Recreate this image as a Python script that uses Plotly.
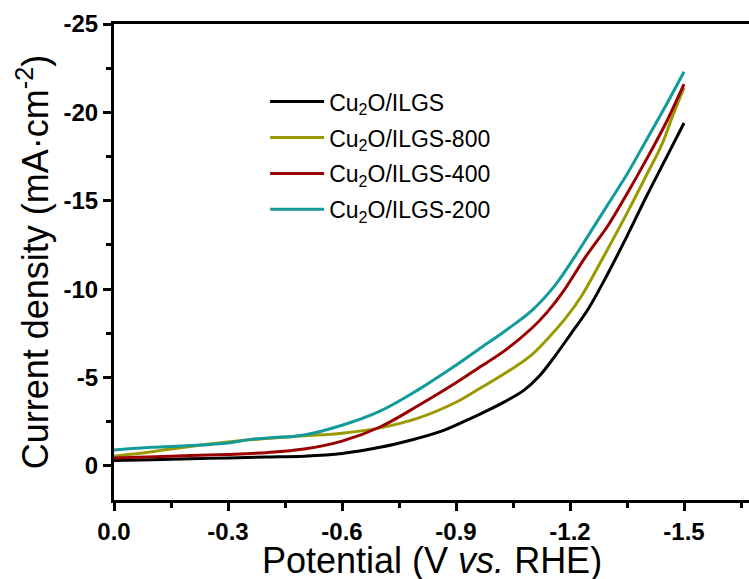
import plotly.graph_objects as go

# ---------------- data ----------------
series_names = ["Cu<sub>2</sub>O/ILGS", "Cu<sub>2</sub>O/ILGS-800",
                "Cu<sub>2</sub>O/ILGS-400", "Cu<sub>2</sub>O/ILGS-200"]
series_colors = ["#000000", "#9a9a00", "#9b0000", "#139b9b"]

v_ilgs = [0, -0.1, -0.2, -0.3, -0.4, -0.5, -0.6, -0.7, -0.78, -0.86, -0.92, -0.97,
          -1.03, -1.08, -1.12, -1.16, -1.2, -1.25, -1.3, -1.35, -1.4, -1.45, -1.5]
j_ilgs = [-0.30, -0.35, -0.40, -0.45, -0.5, -0.55, -0.7, -1.05, -1.45, -1.95, -2.5, -3.0,
          -3.65, -4.3, -5.1, -6.2, -7.4, -8.95, -10.9, -13.0, -15.2, -17.3, -19.4]

v_800 = [0, -0.1, -0.2, -0.3, -0.4, -0.5, -0.6, -0.7, -0.8, -0.9, -0.96, -1.03, -1.1,
         -1.15, -1.19, -1.23, -1.29, -1.35, -1.4, -1.44, -1.47, -1.5]
j_800 = [-0.55, -0.8, -1.1, -1.35, -1.55, -1.7, -1.85, -2.15, -2.7, -3.6, -4.35, -5.25, -6.3,
         -7.4, -8.4, -9.6, -11.9, -14.3, -16.4, -18.1, -19.8, -21.4]

v_400 = [0, -0.15, -0.3, -0.4, -0.5, -0.6, -0.7, -0.8, -0.9, -0.96, -1.03, -1.1, -1.14,
         -1.18, -1.24, -1.3, -1.35, -1.4, -1.45, -1.5]
j_400 = [-0.45, -0.55, -0.65, -0.75, -0.95, -1.4, -2.2, -3.4, -4.7, -5.55, -6.55, -7.8, -8.7,
         -9.8, -11.8, -13.6, -15.4, -17.3, -19.3, -21.6]

v_200 = [0, -0.1, -0.2, -0.3, -0.36, -0.42, -0.5, -0.6, -0.7, -0.8, -0.9, -0.96, -1.03,
         -1.1, -1.16, -1.21, -1.25, -1.3, -1.35, -1.4, -1.45, -1.5]
j_200 = [-0.9, -1.05, -1.15, -1.3, -1.5, -1.6, -1.75, -2.3, -3.1, -4.3, -5.7, -6.6, -7.65,
         -8.8, -10.2, -11.75, -13.1, -14.8, -16.5, -18.4, -20.3, -22.3]

x_tickvals = [0.0, -0.3, -0.6, -0.9, -1.2, -1.5]
x_ticktext = ["0.0", "-0.3", "-0.6", "-0.9", "-1.2", "-1.5"]
x_minorvals = [-0.15, -0.45, -0.75, -1.05, -1.35, -1.65]
y_tickvals = [-25, -20, -15, -10, -5, 0]
y_ticktext = ["-25", "-20", "-15", "-10", "-5", "0"]
y_minorvals = [-22.5, -17.5, -12.5, -7.5, -2.5]

x_title = "Potential (V <i>vs.</i> RHE)"
y_title = "Current density (mA·cm<sup>-2</sup>)"

xs = [v_ilgs, v_800, v_400, v_200]
ys = [j_ilgs, j_800, j_400, j_200]

# ---------------- figure ----------------
FONT = "Arial, Liberation Sans, sans-serif"
fig = go.Figure()
for name, color, x, y in zip(series_names, series_colors, xs, ys):
    fig.add_trace(go.Scatter(x=x, y=y, mode="lines", name=name, legendgroup=name,
                             line=dict(color=color, width=3, shape="spline", smoothing=1.0)))

axis_common = dict(showline=True, linecolor="black", linewidth=3, ticks="outside",
                   ticklen=8, tickwidth=3, tickcolor="black", showgrid=False,
                   zeroline=False, tickmode="array",
                   tickfont=dict(family=FONT, size=24, color="black", weight="bold"))

fig.update_layout(
    width=749, height=579,
    margin=dict(l=114, r=0, t=24, b=79),
    paper_bgcolor="white", plot_bgcolor="white",
    font=dict(family=FONT, color="black"),
    showlegend=True,
    legend=dict(x=0.238, y=0.882, xanchor="left", yanchor="top",
                bgcolor="rgba(0,0,0,0)", borderwidth=0,
                font=dict(family=FONT, size=23, color="black"),
                tracegroupgap=3, itemwidth=54),
    xaxis=dict(axis_common, range=[0, -1.671], mirror=True,
               tickvals=x_tickvals, ticktext=x_ticktext,
               minor=dict(tickmode="array", tickvals=x_minorvals, ticks="outside",
                          ticklen=5, tickwidth=3, tickcolor="black")),
    yaxis=dict(axis_common, range=[1.93, -25],
               tickvals=y_tickvals, ticktext=y_ticktext,
               minor=dict(tickmode="array", tickvals=y_minorvals, ticks="outside",
                          ticklen=5, tickwidth=3, tickcolor="black"),
               title=dict(text=y_title,
                          font=dict(family=FONT, size=36, color="black"), standoff=4)),
)

fig.add_annotation(text=x_title, xref="paper", yref="paper", x=0.5, y=-0.1265,
                   xanchor="center", yanchor="middle", showarrow=False,
                   font=dict(family=FONT, size=36, color="black"))

fig.write_html("out.html")
